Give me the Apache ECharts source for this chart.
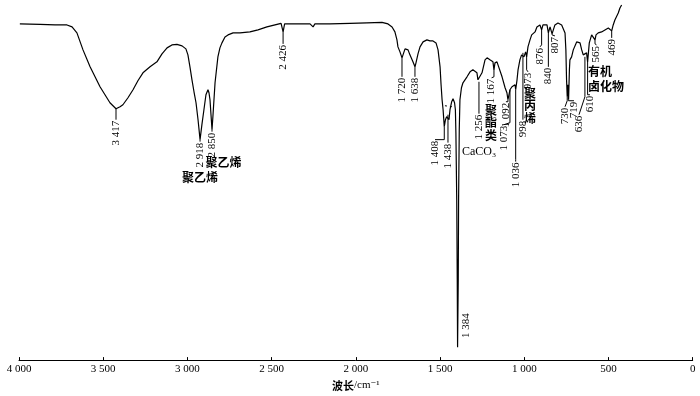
<!DOCTYPE html>
<html>
<head>
<meta charset="utf-8">
<script src="https://cdn.jsdelivr.net/npm/echarts@6/dist/echarts.min.js"></script>
<style>
html,body{margin:0;padding:0;background:#fff;}
#chart{width:700px;height:396px;}
</style>
</head>
<body>
<div id="chart"></div>
<script>
// IR spectrum: wavenumber (cm^-1) and transmittance (arbitrary units)
const waveNumbers = [3995,3875,3786,3715,3685,3656,3620,3578,3519,3460,3424,3400,3383,3353,3323,3294,3264,3222,3181,3151,3121,3092,3062,3032,3009,2997,2985,2973,2961,2949,2937,2925,2914,2902,2890,2878,2872,2866,2860,2854,2848,2836,2819,2807,2795,2777,2759,2729,2688,2629,2581,2528,2480,2444,2432,2423,2332,2272,2254,2243,2154,2035,1934,1845,1809,1785,1768,1756,1750,1738,1726,1720,1708,1702,1690,1679,1661,1649,1643,1631,1619,1601,1578,1560,1542,1524,1512,1500,1494,1488,1482,1475,1468,1461,1453,1447,1441,1431,1423,1414,1409,1406,1401,1398,1396,1392,1390,1386,1382,1373,1364,1340,1322,1305,1281,1275,1269,1251,1233,1221,1204,1186,1180,1174,1162,1156,1132,1114,1103,1097,1091,1085,1073,1067,1055,1051,1043,1037,1026,1016,1008,1002,992,986,978,966,956,936,925,907,897,889,865,857,847,835,818,800,778,758,753,749,745,741,737,732,729,719,709,689,679,669,659,650,640,630,624,614,600,590,580,574,561,541,521,501,491,481,472,462,451,442,432,422];
const transmittance = [337,336.5,336,336,334,328,311,294,274,258,252,254,256,263,271,280,288,294,299,307,313,316,316.5,315,312,306,294,281,269,258,241,221,236,251,266,271,268,261,246,231,246,278,304,313,318,324,326,328,328,329,331,334,336,337.5,329,337,337,337,334,337,337,337.5,338,338.5,337,334,329,321,314,309,303,306,312,313,311,306,299,294,298,307,314,319,321,320,320,318,311,294,276,261,251,234,241,244,246,241,251,259,262,258,251,228,161,81,13,81,161,231,261,273,278,284,289,291,288,281,279,288,301,303,301,299,291,298,299,296,284,273,268,261,266,271,274,273,276,271,281,291,301,306,308,304,309,304,314,321,326,329,334,336,331,336,336,328,334,327,336,338,336,328,311,281,264,276,261,291,301,304,311,319,321,318,311,306,304,308,299,318,326,328,321,326,328,329,331,333,333,330,336,341,343,348,353,356];

// short dashed baseline between the 1 438 / 1 408 bands
const dashWn = [1471,1429];
const dashT  = [255,254];

// peak annotations
const peakLabels = ['3 417','2 918','2 850','2 426','1 720','1 638','1 408','1 438','1 384','1 256','1 167','1 092','1 073','1 036','998','973','876','840','807','730','719','636','610','565','469'];
const peakWn     = [3424,2925,2854,2432,1726,1649,1475,1453,1345,1269,1180,1097,1085,1051,1008,986,897,857,835,745,737,640,624,580,481];
const peakT      = [252,221,231,329,303,294,234,246,48,279,291,261,271,271,308,304,331,328,327,264,261,304,299,321,330];
const leaderEndT = [241,219,229,317,284,284,221,218,48,247,284,259,238,201,241,291,316,294,326,260,260,264,266,317,323];
const labelWn    = [3424,2925,2854,2432,1726,1649,1530,1453,1345,1269,1194,1109,1121,1051,1008,978,907,857,818,758,705,675,610,571,481];
const labelT     = [241,219,229,317,284,284,221,218,48,247,283,259,236,199,241,289,314,294,325,254,260,246,266,316,323];

// substance notes
const noteTexts = ['聚乙烯','聚乙烯','CaCO₃','聚\n酯\n类','聚\n丙\n烯','有机','卤化物'];
const noteWn    = [2925,2786,1269,1198,966,622,622];
const noteT     = [183,198,209,238,255,289,274];
const noteAlign = ['center','center','center','center','center','left','left'];

const xTicks = [4000,3500,3000,2500,2000,1500,1000,500,0];

const chart = echarts.init(document.getElementById('chart'), null, {renderer:'canvas'});
const serif = '"Liberation Serif","Times New Roman","DejaVu Serif",serif';
const cjk = '"Noto Sans CJK SC","Liberation Serif",sans-serif';

function fmt(v){
  if (v >= 1000) return Math.floor(v/1000) + ' ' + String(v%1000).padStart(3,'0');
  return String(v);
}

chart.setOption({
  animation:false,
  backgroundColor:'#fff',
  grid:{left:19, right:7.3, top:0, bottom:35, containLabel:false},
  xAxis:{
    type:'value', inverse:true, min:0, max:4000, interval:500,
    axisLine:{show:true, lineStyle:{color:'#000', width:1}},
    axisTick:{show:true, inside:true, length:3, lineStyle:{color:'#000'}},
    axisLabel:{show:true, margin:4, fontFamily:serif, fontSize:11, color:'#000',
      formatter:function(v){ return xTicks.indexOf(v) >= 0 ? fmt(v) : ''; }},
    splitLine:{show:false},
    name:'{c|波长}{s|/cm⁻¹}', nameLocation:'middle', nameGap:17,
    nameTextStyle:{color:'#000', rich:{
      c:{fontFamily:cjk, fontSize:11, fontWeight:'bold', color:'#000'},
      s:{fontFamily:serif, fontSize:11, color:'#000'}
    }}
  },
  yAxis:{
    type:'value', min:0, max:361,
    show:false
  },
  series:[
    {
      type:'line',
      data:waveNumbers.map((w,i)=>[w, transmittance[i]]),
      showSymbol:false, symbol:'none', smooth:false,
      lineStyle:{color:'#000', width:1.2},
      silent:true
    },
    {
      type:'line',
      data:dashWn.map((w,i)=>[w, dashT[i]]),
      showSymbol:false, symbol:'none',
      lineStyle:{color:'#000', width:1, type:[2,3]},
      silent:true
    },
    {
      type:'custom',
      clip:false, silent:true,
      data:peakWn.map((w,i)=>[w, peakT[i], leaderEndT[i], labelWn[i], labelT[i]]),
      renderItem:function(params, api){
        const i = params.dataIndex;
        const p0 = api.coord([api.value(0), api.value(1)]);
        const p1 = api.coord([api.value(0), api.value(2)]);
        const p2 = api.coord([api.value(3), api.value(4)]);
        return {type:'group', children:[
          {type:'polyline', shape:{points:[p0,p1,p2]}, style:{stroke:'#000', lineWidth:1, fill:null}},
          {type:'text', x:p2[0], y:p2[1]+1, rotation:Math.PI/2,
           style:{text:peakLabels[i], font:'11px '+serif, fill:'#000', align:'right', verticalAlign:'middle'}}
        ]};
      }
    },
    {
      type:'custom',
      clip:false, silent:true,
      data:noteWn.map((w,i)=>[w, noteT[i]]),
      renderItem:function(params, api){
        const i = params.dataIndex;
        const p = api.coord([api.value(0), api.value(1)]);
        const isLatin = /^[A-Za-z]/.test(noteTexts[i]);
        return {type:'text', x:p[0], y:p[1],
          style:{text:noteTexts[i], font:(isLatin ? '12px '+serif : 'bold 12px '+cjk), fill:'#000',
                 align:noteAlign[i], verticalAlign:'middle', lineHeight:12.5}};
      }
    }
  ]
});
</script>
</body>
</html>
